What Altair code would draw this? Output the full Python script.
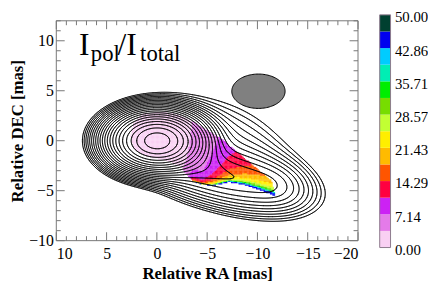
import numpy as np
import pandas as pd
import altair as alt

FONT = "Liberation Serif"

# ---------------- data ----------------
# total-intensity model: Gaussian components (RA, DEC in mas)
comp_ra = [0.0, -2.8, -7.5, -11.8, -8.0]
comp_dec = [0.0, -1.8, -3.8, -4.5, -0.8]
comp_amp = [1.0, 0.03, 0.04, 0.012, 0.009]
comp_sx = [2.2, 2.3, 4.0, 1.8, 4.5]
comp_sy = [1.4, 1.6, 1.65, 1.2, 2.6]
comp_pa = [0.0, 20.0, 12.0, 15.0, 35.0]

contour_lowest = 0.0035
contour_step = 1.3
contour_count = 22

# restoring beam
beam_ra, beam_dec, beam_a, beam_b = -10.1, 4.95, 2.65, 1.72

# outline of the region with significant polarisation (upper part)
pol_top_ra = [-11.4, -9.0, -6.4, -5.2, -3.8, -2.2, -0.5, 1.3, 2.3, 2.6, 2.3, 1.0, -1.0, -2.4, -3.1]
pol_top_dec = [-4.0, -2.0, 0.2, 0.9, 1.8, 2.6, 2.9, 2.7, 1.8, 0.5, -0.8, -1.6, -2.0, -2.6, -3.6]
# lower edge of the polarised jet
edge_ra = [-11.8, -10.3, -8.8, -7.2, -6.3, -5.5, -4.6, -3.6]
edge_dec = [-5.55, -4.95, -4.45, -4.15, -4.35, -4.5, -4.4, -4.1]
frac_scale = 9.86
frac_power = 0.416

# colour bar
bar_bounds = [0.0, 3.571, 7.143, 10.714, 14.286, 17.857, 21.429, 25.0,
              28.571, 32.143, 35.714, 39.286, 42.857, 46.429, 50.0]
bar_colors = ["#f9d0f3", "#e47be9", "#cc22f4", "#ff0040", "#ff5500", "#ffbb00", "#ffee00",
              "#c2ff33", "#77dd00", "#00ee00", "#00eeb4", "#00ccff", "#0000ee", "#004030"]
bar_labels = [0.0, 7.142857, 14.285714, 21.428571, 28.571429, 35.714286, 42.857143, 50.0]

x_labels = [10, 5, 0, -5, -10, -15, -20]
y_labels = [-10, -5, 0, 5, 10]
x_minor = [v for v in range(-20, 11) if v % 5 != 0]
y_minor = [v for v in range(-10, 13) if v % 5 != 0]
title_parts = ["I", "pol", "/I", "total"]

# ---------------- model image + contours ----------------
ra_grid = np.linspace(10, -20, 301)
dec_grid = np.linspace(-10, 12, 221)
RA, DEC = np.meshgrid(ra_grid, dec_grid)
Z = np.zeros_like(RA)
for r0, d0, amp, sx, sy, pa in zip(comp_ra, comp_dec, comp_amp, comp_sx, comp_sy, comp_pa):
    th = np.deg2rad(pa)
    dx, dy = RA - r0, DEC - d0
    u = dx * np.cos(th) + dy * np.sin(th)
    v = -dx * np.sin(th) + dy * np.cos(th)
    Z += amp * np.exp(-0.5 * ((u / sx) ** 2 + (v / sy) ** 2))


def contour_segments(Z, xs, ys, level):
    a = Z[:-1, :-1]; b = Z[:-1, 1:]; c = Z[1:, 1:]; d = Z[1:, :-1]
    shp = a.shape
    X0 = np.broadcast_to(xs[None, :-1], shp); X1 = np.broadcast_to(xs[None, 1:], shp)
    Y0 = np.broadcast_to(ys[:-1, None], shp); Y1 = np.broadcast_to(ys[1:, None], shp)
    with np.errstate(divide="ignore", invalid="ignore"):
        ta = (level - a) / (b - a)
        tb = (level - b) / (c - b)
        tc = (level - d) / (c - d)
        td = (level - a) / (d - a)
    A, B, C, D = a > level, b > level, c > level, d > level
    cross = np.stack([A != B, B != C, D != C, A != D])
    px = np.stack([X0 + ta * (X1 - X0), X1, X0 + tc * (X1 - X0), X0])
    py = np.stack([Y0, Y0 + tb * (Y1 - Y0), Y1, Y0 + td * (Y1 - Y0)])
    n = cross.sum(axis=0)
    rows = []
    m2 = n == 2
    if m2.any():
        cr = cross[:, m2]
        order = np.argsort(~cr, axis=0, kind="stable")[:2]
        pxs, pys = px[:, m2], py[:, m2]
        k = np.arange(cr.shape[1])
        rows.append(np.column_stack([pxs[order[0], k], pys[order[0], k],
                                     pxs[order[1], k], pys[order[1], k]]))
    m4 = n == 4
    if m4.any():
        pxs, pys = px[:, m4], py[:, m4]
        rows.append(np.column_stack([pxs[0], pys[0], pxs[3], pys[3]]))
        rows.append(np.column_stack([pxs[1], pys[1], pxs[2], pys[2]]))
    return np.vstack(rows) if rows else np.zeros((0, 4))


segs = []
for k in range(contour_count):
    lev = contour_lowest * contour_step ** k
    segs.append(contour_segments(Z, ra_grid, dec_grid, lev))
segs = np.vstack(segs)
contour_df = pd.DataFrame(np.round(segs, 3), columns=["xa", "ya", "xb", "yb"])

# ---------------- polarisation fraction raster ----------------
poly_ra = np.array(pol_top_ra + edge_ra[::-1])
poly_dec = np.array(pol_top_dec + edge_dec[::-1])


def inside(px, py, vx, vy):
    res = np.zeros(px.shape, bool)
    j = len(vx) - 1
    for i in range(len(vx)):
        cond = ((vy[i] > py) != (vy[j] > py)) & (
            px < (vx[j] - vx[i]) * (py - vy[i]) / (vy[j] - vy[i] + 1e-12) + vx[i])
        res ^= cond
        j = i
    return res


cell = 0.125
rc = np.arange(2.9375, -12.0, -cell)
dc = np.arange(-5.9375, 3.1, cell)
PR, PD = np.meshgrid(rc, dc)
PR, PD = PR.ravel(), PD.ravel()
keep = inside(PR, PD, poly_ra, poly_dec)
PR, PD = PR[keep], PD[keep]
bottom = np.interp(PR, np.array(edge_ra), np.array(edge_dec))
t = np.maximum(PD - bottom, 0.004)
sdist = np.maximum(-PR - 4.0, 0.6) * np.exp(-np.maximum(0.0, PR + 3.6) / 0.6)
frac = np.clip(frac_scale * (t / sdist) ** (-frac_power), 0.5, 45.5)
half = cell * 0.56
raster_df = pd.DataFrame({"x0": PR + half, "x1": PR - half, "y0": PD - half, "y1": PD + half,
                          "frac": np.round(frac, 2)})

# ---------------- beam ----------------
th = np.linspace(0, np.pi, 61)
beam_df = pd.DataFrame({"x": beam_ra + beam_a * np.cos(th),
                        "yu": beam_dec + beam_b * np.sin(th),
                        "yl": beam_dec - beam_b * np.sin(th)})

# ---------------- chart ----------------
W, H = 306, 229
TOP = 6
xs = alt.Scale(domain=[10, -20], nice=False, zero=False)
ys = alt.Scale(domain=[-10, 12], range=[H, TOP], nice=False, zero=False)
x_axis = alt.Axis(values=x_labels, format="d", title="Relative RA [mas]", ticks=False, domain=False,
                  grid=False, labelFont=FONT, labelFontSize=16, labelColor="black", labelPadding=5,
                  titleFont=FONT, titleFontSize=17, titleFontWeight="bold", titleColor="black",
                  titlePadding=4)
y_axis = alt.Axis(values=y_labels, format="d", title="Relative DEC [mas]", ticks=False, domain=False,
                  grid=False, labelFont=FONT, labelFontSize=16, labelColor="black", labelPadding=3,
                  titleFont=FONT, titleFontSize=17, titleFontWeight="bold", titleColor="black",
                  titlePadding=2)
color_scale = alt.Scale(type="threshold", domain=bar_bounds[1:-1], range=bar_colors)

raster = alt.Chart(raster_df).mark_rect(strokeWidth=0).encode(
    x=alt.X("x0:Q", scale=xs, axis=x_axis), x2="x1:Q",
    y=alt.Y("y0:Q", scale=ys, axis=y_axis), y2="y1:Q",
    color=alt.Color("frac:Q", scale=color_scale, legend=None))

contours = alt.Chart(contour_df).mark_rule(color="black", strokeWidth=0.75, strokeCap="round").encode(
    x=alt.X("xa:Q", scale=xs, axis=x_axis), x2="xb:Q",
    y=alt.Y("ya:Q", scale=ys, axis=y_axis), y2="yb:Q")

beam = alt.Chart(beam_df).mark_area(fill="#808080", stroke="black", strokeWidth=1).encode(
    x=alt.X("x:Q", scale=xs, axis=x_axis),
    y=alt.Y("yu:Q", scale=ys, axis=y_axis), y2="yl:Q")

title_pos = [(23, 41, 32), (35, 47, 23), (62, 41, 32), (85, 47, 23)]
title_layers = []
for part, (tx, ty, fs) in zip(title_parts, title_pos):
    title_layers.append(
        alt.Chart(pd.DataFrame({"t": [part]})).mark_text(
            font=FONT, fontSize=fs, align="left", baseline="alphabetic", color="black").encode(
            text="t:N", x=alt.value(tx), y=alt.value(ty)))

TICK_C = "#777777"


def xticks(vals, length):
    df = pd.DataFrame({"v": vals})
    bot = alt.Chart(df).mark_rule(color=TICK_C, strokeWidth=1).encode(
        x=alt.X("v:Q", scale=xs, axis=x_axis), y=alt.value(H), y2=alt.value(H - length))
    top = alt.Chart(df).mark_rule(color=TICK_C, strokeWidth=1).encode(
        x=alt.X("v:Q", scale=xs, axis=x_axis), y=alt.value(TOP), y2=alt.value(TOP + length))
    return [bot, top]


def yticks(vals, length):
    df = pd.DataFrame({"v": vals})
    lef = alt.Chart(df).mark_rule(color=TICK_C, strokeWidth=1).encode(
        y=alt.Y("v:Q", scale=ys, axis=y_axis), x=alt.value(0), x2=alt.value(length))
    rig = alt.Chart(df).mark_rule(color=TICK_C, strokeWidth=1).encode(
        y=alt.Y("v:Q", scale=ys, axis=y_axis), x=alt.value(W), x2=alt.value(W - length))
    return [lef, rig]


tick_layers = xticks(x_labels, 8.5) + xticks(x_minor, 4.5) + yticks(y_labels, 8.5) + yticks(y_minor, 4.5)

frame = alt.Chart(pd.DataFrame({"a": [0]})).mark_rect(fillOpacity=0, stroke=TICK_C, strokeWidth=1).encode(
    x=alt.datum(10, scale=xs), x2=alt.datum(-20),
    y=alt.datum(-10, scale=ys), y2=alt.datum(12))

main = alt.layer(raster, contours, beam, *title_layers, *tick_layers, frame).properties(width=W, height=H)

bar_df = pd.DataFrame({"lo": bar_bounds[:-1], "hi": bar_bounds[1:]})
bar_df["mid"] = (bar_df["lo"] + bar_df["hi"]) / 2
bar_scale = alt.Scale(domain=[0, 50], nice=False, zero=False)
bar_axis = alt.Axis(orient="right", values=bar_labels, format=".2f", ticks=False, domain=False, grid=False,
                    labelFont=FONT, labelFontSize=15, labelColor="black", labelPadding=4, labelOffset=2,
                    title=None)
bar = alt.Chart(bar_df).mark_rect().encode(
    y=alt.Y("lo:Q", scale=bar_scale, axis=bar_axis), y2="hi:Q",
    x=alt.value(0), x2=alt.value(11),
    color=alt.Color("mid:Q", scale=color_scale, legend=None))
bar_border = alt.Chart(pd.DataFrame({"a": [0]})).mark_rect(fillOpacity=0, stroke="#8c7a8c", strokeWidth=1).encode(
    y=alt.datum(0, scale=bar_scale, axis=bar_axis), y2=alt.datum(50), x=alt.value(0), x2=alt.value(11))
colorbar = alt.layer(bar, bar_border).properties(width=11, height=236)

chart = alt.hconcat(main, colorbar, spacing=20).properties(
    padding={"left": 0, "top": 0, "right": 0, "bottom": 0}
).configure_view(strokeOpacity=0).resolve_scale(color="shared")

chart.save("out.html", embed_options={"renderer": "svg", "actions": False})
